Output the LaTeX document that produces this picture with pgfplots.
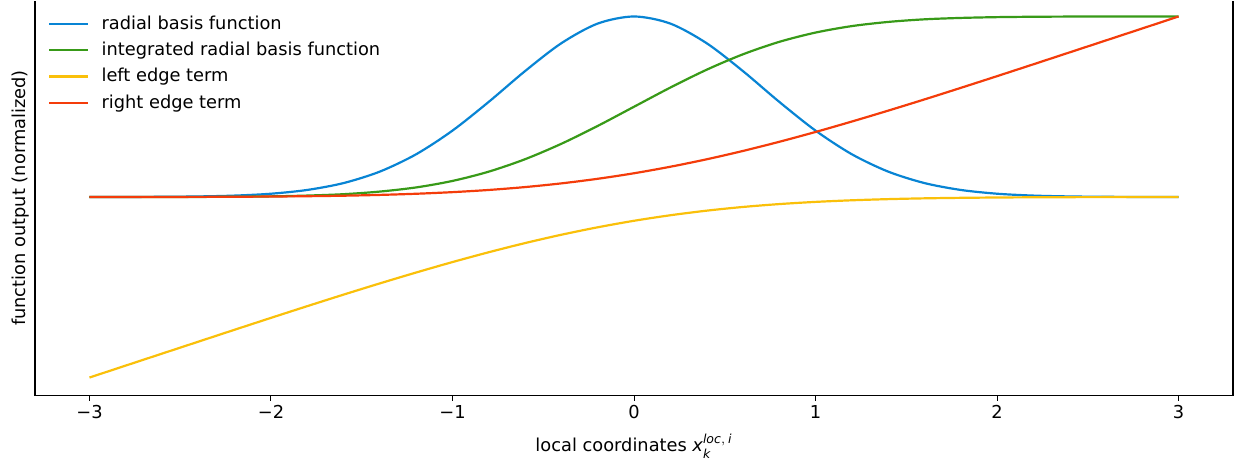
\documentclass[border=0pt]{standalone}
\usepackage{fontspec}
\setmainfont{DejaVu Sans}
\usepackage{pgfplots}
\pgfplotsset{compat=1.18}

\definecolor{rbfblue}{RGB}{8,132,212}
\definecolor{intgreen}{RGB}{56,154,24}
\definecolor{leftyellow}{RGB}{250,192,10}
\definecolor{rightred}{RGB}{244,60,10}

\newcommand{\lblfont}{\fontsize{8.9}{10.7}\selectfont}

\begin{document}
\begin{tikzpicture}
\begin{axis}[
  scale only axis,
  width=599pt, height=197.5pt,
  xmin=-3.3, xmax=3.3, ymin=-1.1, ymax=1.088,
  clip=false,
  axis x line*=bottom, axis y line*=left,
  axis line style={line width=0.6pt, black},
  ytick=\empty,
  xtick={-3,-2,-1,0,1,2,3},
  xticklabels={−3,−2,−1,0,1,2,3},
  tick align=outside,
  major tick length=2.5pt,
  tick style={black, line width=0.5pt},
  x tick label style={font=\lblfont, yshift=1pt},
  label style={font=\lblfont},
  xlabel={local coordinates $\mathit{x}_{\mathit{k}}^{\mathit{loc,\,i}}$},
  ylabel={function output (normalized)},
  xlabel style={yshift=-0.5pt},
  ylabel style={yshift=-3pt},
  legend style={draw=none, fill=none, font=\lblfont,
    at={(0,1)}, anchor=north west, xshift=3.5pt, yshift=-3.3pt,
    row sep=0.9pt, column sep=4.5pt},
  legend cell align=left,
  legend image code/.code={\draw[#1] (0pt,0pt) -- (19pt,0pt);},
  every axis plot/.append style={line width=1.1pt, smooth},
]
% right-hand frame line, and the margins around the axis
\draw[line width=0.6pt, black] (rel axis cs:1,0) -- (rel axis cs:1,1);
\path (rel axis cs:1,0) ++(3pt,0pt);
\path (rel axis cs:0,0) ++(-17.5pt,0pt);
\path (rel axis cs:0,0) ++(0pt,-33pt);

\addplot[rbfblue] coordinates {
(-3.0,0.0001) (-2.8,0.0004) (-2.6,0.0012) (-2.4,0.0032) (-2.2,0.0079)
(-2.0,0.0183) (-1.8,0.0392) (-1.6,0.0773) (-1.4,0.1409) (-1.2,0.2369)
(-1.0,0.3679) (-0.8,0.5273) (-0.6,0.6977) (-0.4,0.8521) (-0.2,0.9608)
(0.0,1.0000)
(0.2,0.9608) (0.4,0.8521) (0.6,0.6977) (0.8,0.5273) (1.0,0.3679)
(1.2,0.2369) (1.4,0.1409) (1.6,0.0773) (1.8,0.0392) (2.0,0.0183)
(2.2,0.0079) (2.4,0.0032) (2.6,0.0012) (2.8,0.0004) (3.0,0.0001)
};
\addlegendentry{radial basis function}

\addplot[intgreen] coordinates {
(-3.0,0.0000) (-2.8,0.0001) (-2.6,0.0002) (-2.4,0.0005) (-2.2,0.0015)
(-2.0,0.0036) (-1.8,0.0080) (-1.6,0.0157) (-1.4,0.0302) (-1.2,0.0532)
(-1.0,0.0891) (-0.8,0.1406) (-0.6,0.2095) (-0.4,0.2950) (-0.2,0.3938)
(0.0,0.5000)
(0.2,0.6062) (0.4,0.7050) (0.6,0.7905) (0.8,0.8594) (1.0,0.9109)
(1.2,0.9468) (1.4,0.9698) (1.6,0.9843) (1.8,0.9920) (2.0,0.9964)
(2.2,0.9985) (2.4,0.9995) (2.6,0.9998) (2.8,0.9999) (3.0,1.0000)
};
\addlegendentry{integrated radial basis function}

\addplot[leftyellow] coordinates {
(-3.0,-1.0000) (-2.8,-0.9336) (-2.6,-0.8674) (-2.4,-0.8012) (-2.2,-0.7351)
(-2.0,-0.6694) (-1.8,-0.6045) (-1.6,-0.5406) (-1.4,-0.4784) (-1.2,-0.4181)
(-1.0,-0.3603) (-0.8,-0.3058) (-0.6,-0.2551) (-0.4,-0.2089) (-0.2,-0.1677)
(0.0,-0.1316)
(0.2,-0.1010) (0.4,-0.0756) (0.6,-0.0551) (0.8,-0.0391) (1.0,-0.0270)
(1.2,-0.0181) (1.4,-0.0117) (1.6,-0.0073) (1.8,-0.0045) (2.0,-0.0027)
(2.2,-0.0015) (2.4,-0.0008) (2.6,-0.0004) (2.8,-0.0002) (3.0,0.0000)
};
\addlegendentry{left edge term}

\addplot[rightred] coordinates {
(-3.0,0.0000) (-2.8,0.0002) (-2.6,0.0004) (-2.4,0.0008) (-2.2,0.0015)
(-2.0,0.0027) (-1.8,0.0045) (-1.6,0.0073) (-1.4,0.0117) (-1.2,0.0181)
(-1.0,0.0270) (-0.8,0.0391) (-0.6,0.0551) (-0.4,0.0756) (-0.2,0.1010)
(0.0,0.1316)
(0.2,0.1677) (0.4,0.2089) (0.6,0.2551) (0.8,0.3058) (1.0,0.3603)
(1.2,0.4181) (1.4,0.4784) (1.6,0.5406) (1.8,0.6045) (2.0,0.6694)
(2.2,0.7351) (2.4,0.8012) (2.6,0.8674) (2.8,0.9336) (3.0,1.0000)
};
\addlegendentry{right edge term}
\end{axis}
\end{tikzpicture}
\end{document}
